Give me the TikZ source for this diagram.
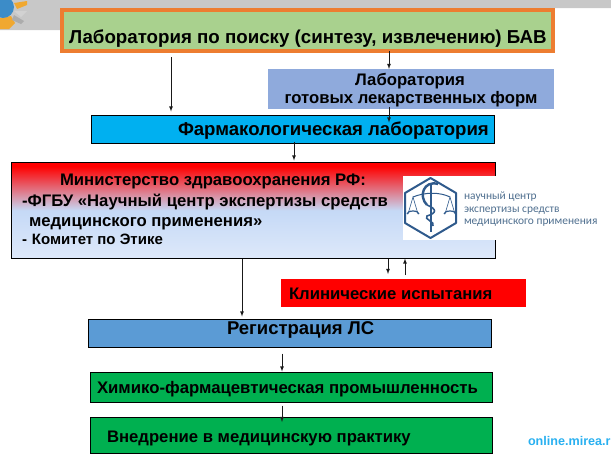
\documentclass[tikz,border=0pt]{standalone}
\usepackage{fontspec}
\setmainfont{Liberation Sans}
\newfontfamily\logofont{Carlito}
\usepackage{tikz}
\usetikzlibrary{calc,positioning}

\definecolor{bandgray}{HTML}{C8C8C8}
\definecolor{poiskgreen}{HTML}{A9D18E}
\definecolor{poiskorange}{HTML}{ED7D31}
\definecolor{gotovblue}{HTML}{8FAADC}
\definecolor{farmcyan}{HTML}{00B0F0}
\definecolor{regblue}{HTML}{5B9BD5}
\definecolor{promgreen}{HTML}{00B050}
\definecolor{logoblue}{HTML}{2F5A8C}
\definecolor{logotext}{HTML}{4F6F8F}
\definecolor{sitecyan}{HTML}{29B0F0}
\definecolor{emblemblue}{HTML}{3C8CC8}
\definecolor{emblemorange}{HTML}{F0A830}
\definecolor{minlight}{HTML}{DEE9FA}
\definecolor{minmid}{HTML}{C5D9F6}
\pgfdeclareverticalshading{minshade}{100bp}{
	color(0bp)=(minlight);
	color(25bp)=(minlight);
	color(50bp)=(minmid);
	color(73bp)=(red);
	color(100bp)=(red)}

\newcommand{\boldsize}[1]{\fontsize{#1}{#1}\selectfont\bfseries}

\tikzset{
	x=1pt, y=-1pt,
	labbox/.style={inner sep=0pt, outer sep=0pt, anchor=north west},
	outlined/.style={labbox, draw=black, line width=1pt},
	flow/.style={-latex, line width=0.8pt, black!90},
	lbl/.style={inner sep=0pt, outer sep=0pt, anchor=base west, text=black},
}

\begin{document}
\begin{tikzpicture}
	\useasboundingbox (0,0) rectangle (611,455);

	% band and emblem at the top
	\fill [bandgray] (0,0) -- (611,0) -- (611,8) -- (60,8) -- (60,30) -- (0,30) -- cycle;
	\fill [emblemorange] (0,18) -- (11,16) -- (15,23) -- (9,29) -- (0,29) -- cycle;
	\fill [emblemorange] (14,3) -- (27,1) -- (27,5) -- (17,9) -- cycle;
	\fill [gray!35] (14,11) -- (27,11) -- (21,17) -- cycle;
	\fill [gray!65] (14,15) -- (24,21) -- (21,24) -- (12,20) -- cycle;
	\fill [emblemblue] (3,7) circle (11);

	% boxes
	\node (poisk) [labbox, fill=poiskgreen, draw=poiskorange, line width=4pt, minimum width=491pt, minimum height=41pt] at (62,10) {};
	\node (gotov) [labbox, fill=gotovblue, minimum width=286pt, minimum height=40pt] at (268,69) {};
	\node (farm) [outlined, fill=farmcyan, minimum width=403pt, minimum height=28pt] at (91.5,115.5) {};
	\node (minzdrav) [outlined, shading=minshade, minimum width=484pt, minimum height=96pt] at (11.5,162.5) {};
	\node (ispyt) [labbox, fill=red, minimum width=245pt, minimum height=28pt] at (281,279) {};
	\node (reg) [outlined, fill=regblue, minimum width=403pt, minimum height=28pt] at (88,319.5) {};
	\node (prom) [outlined, fill=promgreen, minimum width=402pt, minimum height=30pt] at (90,372.5) {};
	\node (vnedr) [outlined, fill=promgreen, minimum width=402pt, minimum height=36pt] at (90,417) {};

	% logo of the centre
	\fill [white] (403,176) rectangle (598,240);
	\draw [logoblue, line width=2pt, line join=round] (430.5,178) -- (456,193) -- (456,223) -- (430.5,238) -- (405,223) -- (405,193) -- cycle;
	\draw [logoblue, line width=1pt] (413,197) .. controls (425,192) and (440,192) .. (450,197);
	\draw [logoblue, line width=0.6pt] (408,214) -- (413,197) -- (418,214);
	\draw [logoblue, line width=0.6pt] (445,214) -- (450,197) -- (455,214);
	\draw [logoblue, line width=1.2pt] (407,214) arc (180:360:6 and 3);
	\draw [logoblue, line width=1.2pt] (444,214) arc (180:360:6 and 3);
	\draw [logoblue, line width=1.8pt] (431,183) -- (431,232);
	\draw [logoblue, line width=2.4pt] (438,184) .. controls (424,180) and (418,196) .. (427,205);
	\draw [logoblue, line width=1.6pt] (427,205) .. controls (437,209) and (437,213) .. (427,216) .. controls (423,219) and (436,222) .. (433,226);
	\node (logoa) [lbl, text=logotext, font=\logofont\fontsize{11.4}{11.4}\selectfont] at (464,199) {научный центр};
	\node (logob) [lbl, text=logotext, font=\logofont\fontsize{11.4}{11.4}\selectfont] at (464,212) {экспертизы средств};
	\node (logoc) [lbl, text=logotext, font=\logofont\fontsize{11.4}{11.4}\selectfont] at (464,224) {медицинского применения};

	% arrows
	\coordinate (ca) at (171,0);
	\coordinate (cb) at (389,0);
	\coordinate (cc) at (294,0);
	\coordinate (cd) at (242,0);
	\coordinate (ce) at (388,0);
	\coordinate (cf) at (405,0);
	\coordinate (cg) at (282,0);
	\draw [flow, shorten <=6pt, shorten >=4pt] (poisk.south -| ca) -- (farm.north -| ca);
	\draw [flow] (poisk.south -| cb) -- (gotov.north -| cb);
	\draw [flow, shorten <=-2pt, shorten >=-7pt] (gotov.south -| cb) -- (farm.north -| cb);
	\draw [flow, shorten <=-2pt, shorten >=2pt] (farm.south -| cc) -- (minzdrav.north -| cc);
	\draw [flow, shorten >=3pt] (minzdrav.south -| cd) -- (reg.north -| cd);
	\draw [flow, shorten >=5pt] (minzdrav.south -| ce) -- (ispyt.north -| ce);
	\draw [flow, shorten <=4pt] (ispyt.north -| cf) -- (minzdrav.south -| cf);
	\draw [flow, shorten <=6pt, shorten >=1pt] (reg.south -| cg) -- (prom.north -| cg);
	\draw [flow, shorten <=3pt, shorten >=-5pt] (prom.south -| cg) -- (vnedr.north -| cg);

	% texts
	\node (poisktext) [lbl, font=\boldsize{18.7}] at (69,43) {Лаборатория по поиску (синтезу, извлечению) БАВ};
	\node (gotovtexta) [lbl, anchor=base, font=\boldsize{16.7}] at (410,85) {Лаборатория};
	\node (gotovtextb) [lbl, anchor=base, font=\boldsize{16.7}] at (411,103) {готовых лекарственных форм};
	\node (farmtext) [lbl, font=\boldsize{18.6}] at (178,135) {Фармакологическая лаборатория};
	\node (mina) [lbl, font=\boldsize{16.7}] at (60,185) {Министерство здравоохранения РФ:};
	\node (minb) [lbl, font=\boldsize{16.7}] at (22,206) {-ФГБУ «Научный центр экспертизы средств};
	\node (minc) [lbl, font=\boldsize{16.7}] at (29,226) {медицинского применения»};
	\node (mind) [lbl, font=\boldsize{15}] at (22,244) {-\hspace{5pt}Комитет по Этике};
	\node (ispyttext) [lbl, font=\boldsize{16.7}] at (289,299) {Клинические испытания};
	\node (regtext) [lbl, font=\boldsize{18.5}] at (227,334) {Регистрация ЛС};
	\node (promtext) [lbl, font=\boldsize{16.75}] at (97,393) {Химико-фармацевтическая промышленность};
	\node (vnedrtext) [lbl, font=\boldsize{16.7}] at (107,442) {Внедрение в медицинскую практику};
	\begin{scope}
		\clip (0,0) rectangle (611,455);
		\node (site) [lbl, text=sitecyan, font=\boldsize{12.6}] at (528,445) {online.mirea.r};
	\end{scope}
\end{tikzpicture}
\end{document}
